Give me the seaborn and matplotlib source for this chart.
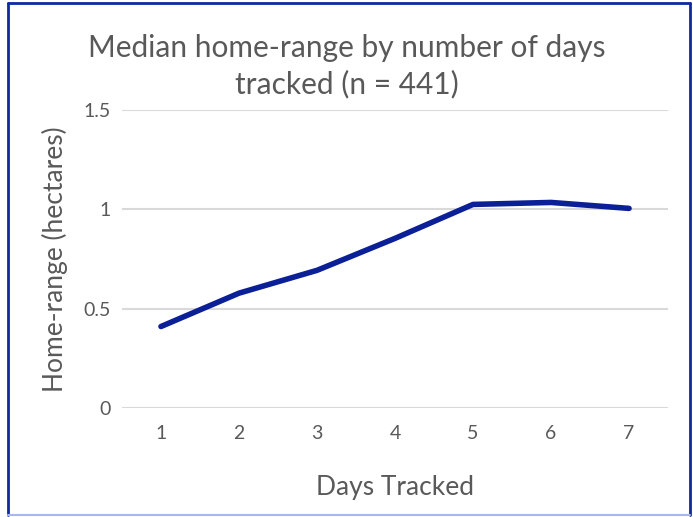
import matplotlib
matplotlib.use("Agg")
import matplotlib.pyplot as plt
from matplotlib.lines import Line2D
import pandas as pd
import seaborn as sns

# values
days_tracked = [1, 2, 3, 4, 5, 6, 7]
median_home_range = [0.41, 0.578, 0.693, 0.854, 1.025, 1.035, 1.005]
y_ticks = [0, 0.5, 1, 1.5]
y_tick_labels = ["0", "0.5", "1", "1.5"]

df = pd.DataFrame({"days": days_tracked, "home_range": median_home_range})

sns.set_theme(style="white")
plt.rcParams["font.family"] = ["Lato", "DejaVu Sans"]

text_grey = "#595959"
line_blue = "#0b1f96"

fig = plt.figure(figsize=(6.93, 5.17), dpi=100)
ax = fig.add_axes([0.176, 0.211, 0.788, 0.576])

sns.lineplot(data=df, x="days", y="home_range", ax=ax, color=line_blue,
             linewidth=4, solid_capstyle="round")

ax.set_xlim(0.5, 7.5)
ax.set_ylim(0, 1.5)
ax.set_xticks(days_tracked)
ax.set_xticklabels([str(d) for d in days_tracked])
ax.set_yticks(y_ticks)
ax.set_yticklabels(y_tick_labels)
ax.yaxis.grid(True, color="#d9d9d9", linewidth=1.5)
ax.set_axisbelow(True)
for s in ax.spines.values():
    s.set_visible(False)
ax.tick_params(axis="both", length=0, labelsize=14, colors=text_grey)
ax.tick_params(axis="y", pad=8)
ax.tick_params(axis="x", pad=12)

ax.set_xlabel("Days Tracked", fontsize=19, color=text_grey, labelpad=24)
ax.set_ylabel("Home-range (hectares)", fontsize=19, color=text_grey, labelpad=11)
fig.text(0.5, 0.872, "Median home-range by number of days\ntracked (n = 441)",
         ha="center", va="center", fontsize=21.5, color=text_grey,
         linespacing=1.3)

# chart frame
W, H = 693, 517
dark = "#1228a0"
light = "#a9b8ec"
fig.add_artist(Line2D([7.5 / W, 7.5 / W], [2 / H, 1 - 2.5 / H], color=dark, linewidth=2))
fig.add_artist(Line2D([689.5 / W, 689.5 / W], [2 / H, 1 - 2.5 / H], color=dark, linewidth=2))
fig.add_artist(Line2D([7.5 / W, 689.5 / W], [1 - 2.5 / H, 1 - 2.5 / H], color=dark, linewidth=2))
fig.add_artist(Line2D([7.5 / W, 689.5 / W], [2 / H, 2 / H], color=light, linewidth=1.5))

fig.savefig("out.png", dpi=100)
